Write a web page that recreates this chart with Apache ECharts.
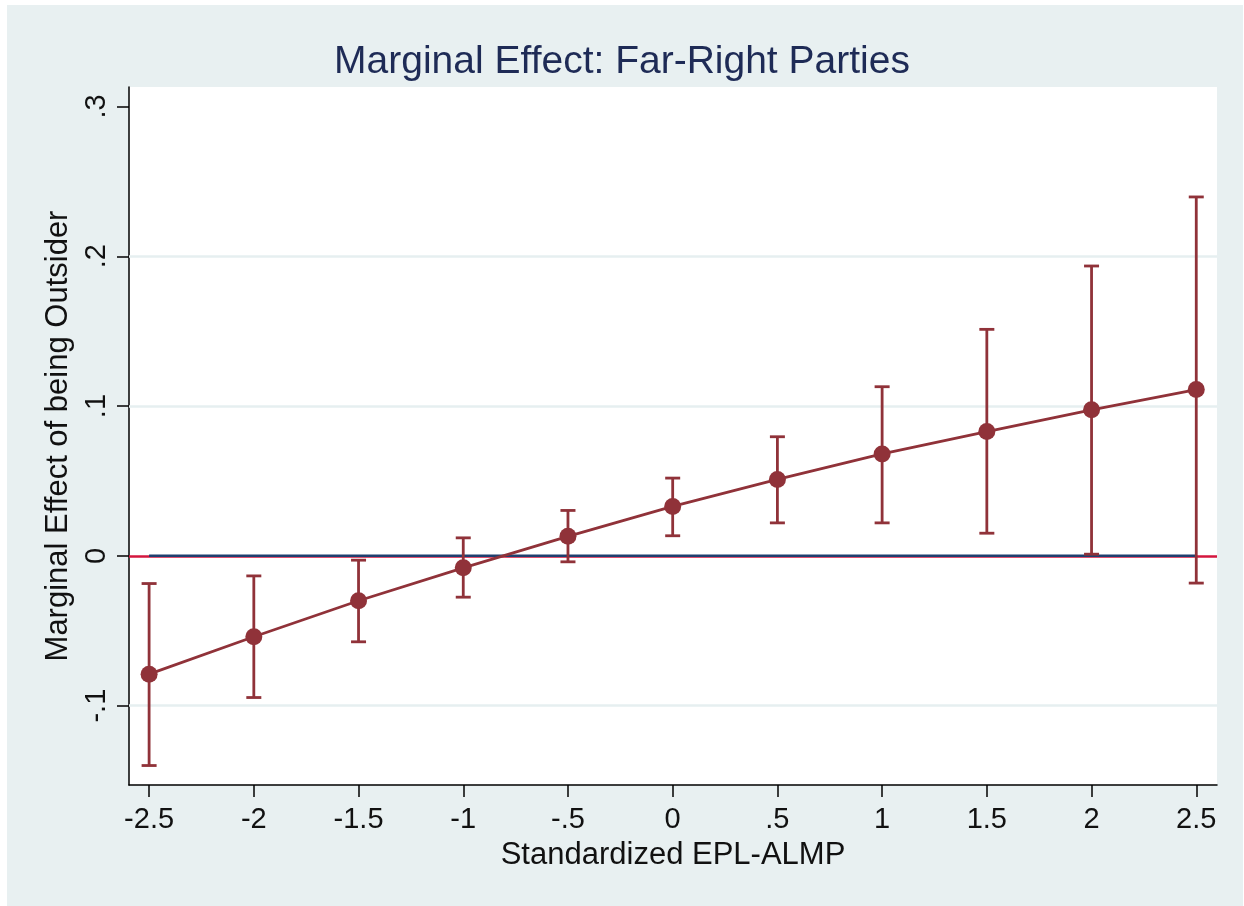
<!DOCTYPE html>
<html>
<head>
<meta charset="utf-8">
<script src="https://cdn.jsdelivr.net/npm/echarts@6/dist/echarts.min.js"></script>
<style>
  html, body { margin: 0; padding: 0; background: #fff; }
  #main { width: 1244px; height: 906px; }
</style>
</head>
<body>
<div id="main"></div>
<script>
// values
const xValues = [-2.5, -2, -1.5, -1, -0.5, 0, 0.5, 1, 1.5, 2, 2.5];
const effect  = [-0.079, -0.054, -0.030, -0.008, 0.013, 0.033, 0.051, 0.068, 0.083, 0.0975, 0.111];
const ciLow   = [-0.140, -0.0946, -0.0574, -0.0276, -0.004, 0.0134, 0.022, 0.022, 0.0151, 0.0011, -0.0182];
const ciHigh  = [-0.0185, -0.0134, -0.0029, 0.012, 0.0303, 0.0519, 0.0795, 0.1129, 0.1512, 0.1935, 0.2396];
const xTicks  = [-2.5, -2, -1.5, -1, -0.5, 0, 0.5, 1, 1.5, 2, 2.5];
const yTicks  = [-0.1, 0, 0.1, 0.2, 0.3];
const yGrid   = [-0.1, 0.1, 0.2];

const myChart = echarts.init(document.getElementById('main'));

const maroon = '#903239';
const navy = '#1f3f6e';
const font = 'Liberation Sans, Arial, sans-serif';

// stata style labels: .5 instead of 0.5
function stataFmt(v) {
    if (v === 0) return '0';
    return String(v).replace('0.', '.');
}

const barData = xValues.map(function (x, i) { return [x, ciLow[i], ciHigh[i]]; });

option = {
    backgroundColor: '#ffffff',
    animation: false,
    graphic: [{
        type: 'rect',
        z: -10,
        shape: { x: 7, y: 5, width: 1236, height: 901 },
        style: { fill: '#e8f0f1' }
    }],
    title: {
        text: 'Marginal Effect: Far-Right Parties',
        left: 'center',
        top: 43,
        padding: 0,
        textStyle: { fontFamily: font, fontSize: 39, fontWeight: 'normal', color: '#1e2b56' }
    },
    grid: {
        left: 129, right: 27, top: 87, bottom: 121,
        show: true, backgroundColor: '#ffffff', borderWidth: 0
    },
    xAxis: {
        type: 'value',
        min: -2.596,
        max: 2.599,
        name: 'Standardized EPL-ALMP',
        nameLocation: 'middle',
        nameGap: 55,
        nameTextStyle: { fontFamily: font, fontSize: 31, color: '#111' },
        axisLine: { onZero: false, lineStyle: { color: '#000', width: 1.5 } },
        axisTick: { show: true, length: 12, customValues: xTicks, lineStyle: { color: '#000', width: 1.5 } },
        axisLabel: { customValues: xTicks, formatter: stataFmt, margin: 20, fontFamily: font, fontSize: 29, color: '#111' },
        splitLine: { show: false }
    },
    yAxis: {
        type: 'value',
        min: -0.153,
        max: 0.313,
        name: 'Marginal Effect of being Outsider',
        nameLocation: 'middle',
        nameGap: 54,
        nameTextStyle: { fontFamily: font, fontSize: 31, color: '#111' },
        axisLine: { show: true, onZero: false, lineStyle: { color: '#000', width: 1.5 } },
        axisTick: { show: true, length: 12, customValues: yTicks, lineStyle: { color: '#000', width: 1.5 } },
        axisLabel: { customValues: yTicks, formatter: stataFmt, rotate: 90, margin: 18, fontFamily: font, fontSize: 29, color: '#111' },
        splitLine: { show: false }
    },
    series: [
        {
            // gridlines and red yline at zero
            type: 'line',
            data: [],
            silent: true,
            z: 1,
            markLine: {
                symbol: 'none',
                silent: true,
                z: 1,
                label: { show: false },
                data: yGrid.map(function (v) {
                    return { yAxis: v, lineStyle: { color: '#e6eff0', width: 2.5, type: 'solid' } };
                }).concat([{ yAxis: 0, lineStyle: { color: '#d4163e', width: 2.5, type: 'solid' } }])
            }
        },
        {
            // zero reference line over the data range
            type: 'line',
            data: [[xValues[0], 0], [xValues[xValues.length - 1], 0]],
            symbol: 'none',
            lineStyle: { color: navy, width: 2.5 },
            silent: true,
            z: 6
        },
        {
            type: 'custom',
            data: barData,
            z: 7,
            renderItem: function (params, api) {
                const lo = api.coord([api.value(0), api.value(1)]);
                const hi = api.coord([api.value(0), api.value(2)]);
                const hw = 7.5;
                const st = { stroke: maroon, lineWidth: 2.8 };
                return {
                    type: 'group',
                    children: [
                        { type: 'line', shape: { x1: lo[0], y1: lo[1], x2: hi[0], y2: hi[1] }, style: st },
                        { type: 'line', shape: { x1: lo[0] - hw, y1: lo[1], x2: lo[0] + hw, y2: lo[1] }, style: st },
                        { type: 'line', shape: { x1: hi[0] - hw, y1: hi[1], x2: hi[0] + hw, y2: hi[1] }, style: st }
                    ]
                };
            }
        },
        {
            type: 'line',
            data: xValues.map(function (x, i) { return [x, effect[i]]; }),
            symbol: 'circle',
            symbolSize: 17,
            showSymbol: true,
            itemStyle: { color: maroon },
            lineStyle: { color: maroon, width: 2.8 },
            z: 8
        }
    ]
};

myChart.setOption(option);
</script>
</body>
</html>
